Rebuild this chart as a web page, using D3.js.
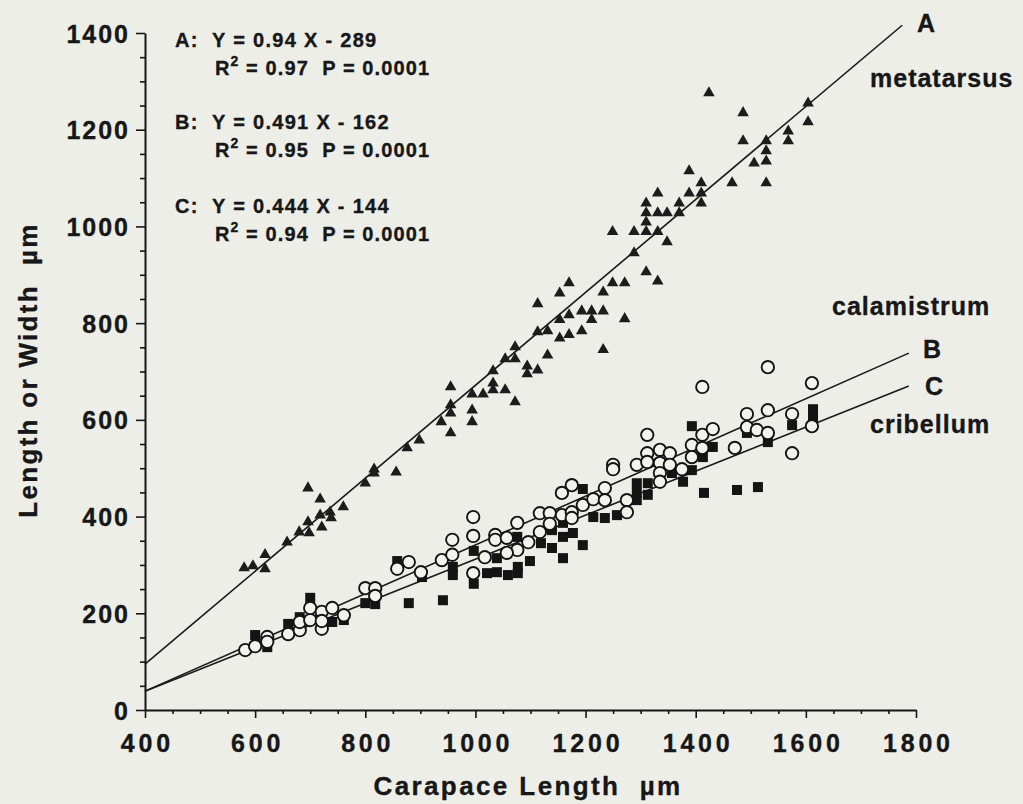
<!DOCTYPE html>
<html>
<head>
<meta charset="utf-8">
<script src="https://cdn.jsdelivr.net/npm/d3@7"></script>
<style>
  body { margin: 0; background: #eeeee9; }
  text { font-family: "Liberation Sans", Arial, sans-serif; font-weight: bold; fill: #171717;
         stroke: #171717; stroke-width: 0.35px; white-space: pre; }
</style>
</head>
<body>
<div id="chart"></div>
<script>
// tick labels
const xTicks = [400, 600, 800, 1000, 1200, 1400, 1600, 1800];
const yTicks = [0, 200, 400, 600, 800, 1000, 1200, 1400];

// metatarsus (A), [carapace, length]
const metatarsus = [
  [580,294],[596,298],[618,292],[618,321],[658,347],[680,368],[698,366],[696,389],[696,459],
  [718,436],[718,403],[721,378],[736,409],[738,397],[760,420],[800,469],[816,498],[816,490],
  [856,492],[876,542],[898,558],[938,596],[955,573],[955,614],[955,631],[955,668],[994,653],
  [994,620],[994,596],[1014,653],[1032,662],[1032,676],[1032,701],[1054,662],[1072,637],
  [1054,726],[1072,726],[1072,751],[1094,711],[1094,695],[1113,703],[1131,734],[1113,782],
  [1131,784],[1153,807],[1153,769],[1170,776],[1193,784],[1170,817],[1193,825],[1211,825],
  [1211,807],[1232,825],[1232,745],[1113,840],[1153,862],[1170,883],[1232,864],[1249,883],
  [1271,809],[1271,883],[1288,945],[1310,906],[1331,887],[1249,989],[1288,989],[1310,989],
  [1310,1009],[1310,1028],[1310,1048],[1331,1028],[1348,1028],[1331,989],[1348,968],[1331,1069],
  [1370,1048],[1370,1028],[1388,1069],[1388,1115],[1410,1090],[1410,1069],[1410,1048],
  [1466,1090],[1528,1090],[1506,1131],[1528,1135],[1528,1156],[1528,1177],[1486,1177],
  [1486,1235],[1424,1276],[1568,1197],[1568,1177],[1604,1255],[1604,1216]
];

// calamistrum (B), open circles
const calamistrum = [
  [582,124],[600,132],[622,151],[622,141],[660,157],[681,165],[681,182],[700,186],[700,211],
  [721,203],[721,168],[721,184],[740,211],[761,196],[800,252],[818,252],[818,236],[858,292],
  [879,306],[901,285],[939,310],[958,321],[958,352],[996,399],[996,360],[996,283],[1017,316],
  [1036,362],[1036,352],[1057,356],[1076,387],[1076,331],[1057,325],[1096,347],[1117,407],
  [1117,368],[1135,407],[1135,385],[1157,449],[1157,403],[1175,465],[1175,409],[1175,397],
  [1195,424],[1214,436],[1235,459],[1235,434],[1250,507],[1250,498],[1275,434],[1275,409],
  [1293,507],[1312,569],[1312,531],[1312,513],[1335,538],[1335,511],[1335,490],[1335,472],
  [1353,531],[1353,507],[1375,498],[1393,548],[1393,523],[1412,569],[1412,542],[1431,581],
  [1471,542],[1493,612],[1493,585],[1511,579],[1531,620],[1531,573],[1575,612],[1575,531],
  [1412,668],[1531,709],[1611,676],[1611,587]
];

// cribellum (C), filled squares
const cribellum = [
  [600,155],[622,130],[660,178],[681,192],[700,232],[740,182],[761,186],[800,221],[818,219],
  [858,308],[879,221],[903,275],[941,227],[959,296],[959,279],[997,329],[997,261],[1021,283],
  [1039,314],[1039,285],[1059,279],[1076,358],[1077,296],[1077,283],[1099,308],[1119,345],
  [1139,335],[1139,372],[1159,314],[1159,358],[1159,387],[1177,366],[1195,457],[1195,341],
  [1214,399],[1235,397],[1257,403],[1293,469],[1293,449],[1293,434],[1313,469],[1313,445],
  [1335,482],[1357,490],[1377,472],[1393,587],[1393,496],[1413,523],[1431,544],[1415,449],
  [1475,455],[1513,461],[1493,573],[1531,554],[1575,589],[1613,622],[1613,606]
];

// fitted lines as drawn, end points
const lineA = [[400,95],[1775,1416]];
const lineB = [[400,39],[1787,738]];
const lineC = [[400,39],[1787,670]];

const W = 1023, H = 804;
const svg = d3.select("#chart").append("svg").attr("width", W).attr("height", H);
svg.append("rect").attr("width", W).attr("height", H).attr("fill", "#eeeee9");

const x = d3.scaleLinear().domain([400, 1800]).range([145, 916]);
const y = d3.scaleLinear().domain([0, 1400]).range([710, 33]);

// minor ticks every 50
const xMinor = d3.range(450, 1800, 50).filter(v => v % 200 !== 0);
const yMinor = d3.range(50, 1400, 50).filter(v => v % 200 !== 0);

svg.append("g").attr("transform", `translate(0,${y(0)})`)
  .call(d3.axisBottom(x).tickValues(xMinor).tickSize(4).tickSizeOuter(0).tickFormat(""))
  .call(g => g.select(".domain").remove());
svg.append("g").attr("transform", `translate(${x(400)},0)`)
  .call(d3.axisLeft(y).tickValues(yMinor).tickSize(5).tickSizeOuter(0).tickFormat(""))
  .call(g => g.select(".domain").remove());

const xAx = svg.append("g").attr("transform", `translate(0,${y(0)})`)
  .call(d3.axisBottom(x).tickValues(xTicks).tickSize(8).tickSizeOuter(0).tickFormat(d3.format("d")));
const yAx = svg.append("g").attr("transform", `translate(${x(400)},0)`)
  .call(d3.axisLeft(y).tickValues(yTicks).tickSize(9).tickSizeOuter(0).tickFormat(d3.format("d")));

svg.selectAll(".tick line").attr("stroke", "#151515").attr("stroke-width", 1.6);
svg.selectAll(".domain").attr("stroke", "#151515").attr("stroke-width", 2);

xAx.selectAll("text")
  .attr("y", 42).attr("dy", 0).attr("dx", "1.9px")
  .attr("font-size", null).attr("font-family", null).attr("fill", null)
  .style("font-size", "25px").style("letter-spacing", "3.8px");
yAx.selectAll("text")
  .attr("x", -15).attr("dy", "0.36em")
  .attr("font-size", null).attr("font-family", null).attr("fill", null)
  .style("font-size", "25px").style("letter-spacing", "2px");

// axis titles
svg.append("text").attr("x", 528).attr("y", 795).attr("text-anchor", "middle")
  .style("font-size", "26px").style("letter-spacing", "2.4px")
  .text("Carapace Length  \u00b5m");
svg.append("text").attr("transform", "translate(37,370) rotate(-90)").attr("text-anchor", "middle")
  .style("font-size", "26px").style("letter-spacing", "2.3px")
  .text("Length or Width  \u00b5m");

// fitted lines
const line = d3.line().x(d => x(d[0])).y(d => y(d[1]));
[lineA, lineB, lineC].forEach(l => {
  svg.append("path").attr("d", line(l)).attr("fill", "none")
    .attr("stroke", "#1a1a1a").attr("stroke-width", 1.6);
});

// points
svg.selectAll("rect.crib").data(cribellum).enter().append("rect")
  .attr("class", "crib")
  .attr("x", d => x(d[0]) - 5).attr("y", d => y(d[1]) - 5)
  .attr("width", 10).attr("height", 10)
  .attr("fill", "#141414");

const tri = d3.symbol().type(d3.symbolTriangle).size(58);
svg.selectAll("path.meta").data(metatarsus).enter().append("path")
  .attr("class", "meta")
  .attr("d", tri)
  .attr("transform", d => `translate(${x(d[0])},${y(d[1])})`)
  .attr("fill", "#1c1c1c");

svg.selectAll("circle.cal").data(calamistrum).enter().append("circle")
  .attr("class", "cal")
  .attr("cx", d => x(d[0])).attr("cy", d => y(d[1]))
  .attr("r", 6.2)
  .attr("fill", "#f3f3ee").attr("stroke", "#141414").attr("stroke-width", 1.9);

// regression equations
const eqs = [
  { k: "A:", eq: "Y = 0.94 X - 289", r: "0.97", y: 47 },
  { k: "B:", eq: "Y = 0.491 X - 162", r: "0.95", y: 129 },
  { k: "C:", eq: "Y = 0.444 X - 144", r: "0.94", y: 213 }
];
eqs.forEach(e => {
  svg.append("text").attr("x", 175).attr("y", e.y)
    .style("font-size", "20px").style("letter-spacing", "1.2px").text(e.k);
  svg.append("text").attr("x", 212).attr("y", e.y)
    .style("font-size", "20px").style("letter-spacing", "1.3px").text(e.eq);
  const t = svg.append("text").attr("x", 215).attr("y", e.y + 28)
    .style("font-size", "20px").style("letter-spacing", "1.1px");
  t.append("tspan").text("R");
  t.append("tspan").attr("dy", -9).style("font-size", "14px").text("2");
  t.append("tspan").attr("dy", 9).text(" = " + e.r + "  P = 0.0001");
});

// line labels
const labels = [
  { t: "A", x: 917, y: 32 },
  { t: "metatarsus", x: 870, y: 87 },
  { t: "calamistrum", x: 832, y: 315 },
  { t: "B", x: 923, y: 358 },
  { t: "C", x: 925, y: 395 },
  { t: "cribellum", x: 870, y: 433 }
];
svg.selectAll("text.lab").data(labels).enter().append("text")
  .attr("class", "lab")
  .attr("x", d => d.x).attr("y", d => d.y)
  .style("font-size", "25px").style("letter-spacing", "1px")
  .text(d => d.t);
</script>
</body>
</html>
